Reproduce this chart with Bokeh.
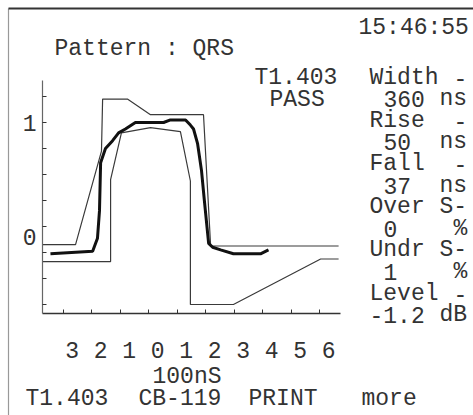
from bokeh.plotting import figure
from bokeh.models import Range1d, FixedTicker, Label, LinearAxis
from bokeh.embed import file_html
from bokeh.resources import INLINE

# ---- data (time in 100 ns units, amplitude normalised to pulse level) ----
upper_t = [-3.72, -2.56, -1.65, -1.61, -0.74, 0.07, 1.93, 2.18, 6.67]
upper_a = [0.06, 0.06, 0.78, 1.18, 1.18, 1.06, 1.06, 0.05, 0.05]

lower_t = [-3.72, -1.33, -1.33, -0.95, 0.07, 1.12, 1.47, 1.47, 2.98, 6.04, 6.67]
lower_a = [-0.07, -0.07, 0.56, 0.92, 0.96, 0.93, 0.55, -0.40, -0.40, -0.05, -0.05]

pulse_t = [-3.44, -1.96, -1.79, -1.72, -1.68, -1.51, -1.26, -1.05, -0.81, -0.46,
           0.53, 0.77, 1.30, 1.47, 1.58, 1.72, 1.86, 1.96, 2.11, 2.25, 2.53,
           2.98, 3.93, 4.21]
pulse_a = [-0.01, 0.01, 0.11, 0.32, 0.69, 0.80, 0.86, 0.92, 0.95, 1.00,
           1.00, 1.02, 1.02, 0.98, 0.95, 0.84, 0.63, 0.40, 0.07, 0.04, 0.02,
           -0.01, -0.01, 0.02]

x_ticks = [-3, -2, -1, 0, 1, 2, 3, 4, 5, 6]
x_tick_labels = ["3", "2", "1", "0", "1", "2", "3", "4", "5", "6"]
y_ticks = [-0.4, -0.2, 0.0, 0.2, 0.4, 0.6, 0.8, 1.0, 1.2]
y_label_pos = [0.123, 1.0]
y_tick_labels = ["0", "1"]

FONT = "Liberation Mono"
FS = "23px"
TXT = "#333333"
W, H = 473, 415


# screen-layout helpers (canvas px -> data)
def dx(px):
    return (px - 148) / 28.5


def dy(py):
    return (252 - py) / 130


p = figure(width=W, height=H, output_backend="svg", toolbar_location=None,
           x_range=Range1d(dx(0), dx(W)), y_range=Range1d(dy(H), dy(0)),
           x_axis_location=None, y_axis_location=None,
           min_border=0, min_border_left=0, min_border_right=0,
           min_border_top=0, min_border_bottom=0)
p.outline_line_color = None
p.xgrid.visible = False
p.ygrid.visible = False
p.background_fill_color = "white"
p.border_fill_color = "white"

# axes placed at the plot-box edges
lab_off = 0.32
xt = [t + lab_off for t in x_ticks]
xaxis = LinearAxis(fixed_location=dy(313), bounds=(dx(42), dx(340)),
                   ticker=FixedTicker(ticks=xt, minor_ticks=x_ticks),
                   major_label_overrides={t: s for t, s in zip(xt, x_tick_labels)},
                   major_label_standoff=28)
yaxis = LinearAxis(fixed_location=dx(42), bounds=(dy(313), dy(80)),
                   ticker=FixedTicker(ticks=y_label_pos, minor_ticks=y_ticks),
                   major_label_overrides={t: s for t, s in zip(y_label_pos, y_tick_labels)},
                   major_label_standoff=6)
for ax in (xaxis, yaxis):
    ax.major_tick_in = 0
    ax.major_tick_out = 0
    ax.minor_tick_in = 4
    ax.minor_tick_out = 0
    ax.minor_tick_line_color = "#333"
    ax.major_label_text_font = FONT
    ax.major_label_text_font_size = FS
    ax.major_label_text_color = TXT
xaxis.axis_line_color = "#333"
xaxis.axis_line_width = 1.5
yaxis.axis_line_color = "#666"
yaxis.axis_line_width = 1.2
p.add_layout(xaxis, "below")
p.add_layout(yaxis, "left")

# page border
p.line([dx(8), dx(8)], [dy(H), dy(8)], line_color="#999", line_width=1.2)
p.line([dx(8), dx(W)], [dy(8), dy(8)], line_color="#333", line_width=2)

# curves
p.line(upper_t, upper_a, line_color="#3a3a3a", line_width=1.2)
p.line(lower_t, lower_a, line_color="#3a3a3a", line_width=1.2)
p.line(pulse_t, pulse_a, line_color="#111", line_width=3)


def put(text, px, py):
    p.add_layout(Label(x=dx(px), y=dy(py), text=text, text_font=FONT,
                       text_font_size=FS, text_color=TXT,
                       text_baseline="middle", text_align="left"))


put("15:46:55", 358, 27)
put("Pattern : QRS", 54, 48)
put("T1.403", 254, 77)
put("PASS", 269, 99)

c0, cw = 369, 14
rows = [("Width", 0, "-", 6), ("360", 1, "ns", 5), ("Rise", 0, "-", 6),
        ("50", 1, "ns", 5), ("Fall", 0, "-", 6), ("37", 1, "ns", 5),
        ("Over", 0, "S-", 5), ("0", 1, "%", 6), ("Undr", 0, "S-", 5),
        ("1", 1, "%", 6), ("Level", 0, "-", 6), ("-1.2", 0, "dB", 5)]
for i, (a, ca, b, cb) in enumerate(rows):
    y = 77 + 21.6 * i
    put(a, c0 + ca * cw, y)
    put(b, c0 + cb * cw, y)

put("100nS", 152, 376)
put("T1.403", 25, 398)
put("CB-119", 138, 398)
put("PRINT", 248, 398)
put("more", 361, 398)

open("out.html", "w").write(file_html(p, INLINE))
